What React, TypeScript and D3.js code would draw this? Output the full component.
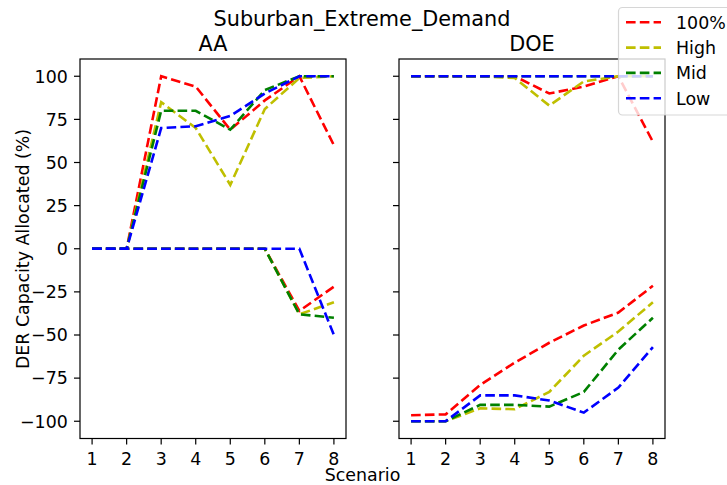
import React from "react";
import * as d3 from "d3";

const scenarios = [1, 2, 3, 4, 5, 6, 7, 8];
const seriesNames = ["100%", "High", "Mid", "Low"];
const seriesColors = ["#ff0000", "#bfbf00", "#008000", "#0000ff"];
const yTicks = [-100, -75, -50, -25, 0, 25, 50, 75, 100];

// AA panel
const aa100Pos = [0, 0, 100, 94, 69, 86, 100, 60];
const aaHighPos = [0, 0, 85, 70, 37, 81, 99, 100];
const aaMidPos = [0, 0, 80, 80, 69, 92, 100, 100];
const aaLowPos = [0, 0, 70, 71, 77, 90, 100, 100];
const aa100Neg = [0, 0, 0, 0, 0, 0, -36, -22];
const aaHighNeg = [0, 0, 0, 0, 0, 0, -38, -31];
const aaMidNeg = [0, 0, 0, 0, 0, 0, -38, -40];
const aaLowNeg = [0, 0, 0, 0, 0, 0, 0, -50];

// DOE panel
const doe100Pos = [100, 100, 100, 100, 90, 94, 100, 62];
const doeHighPos = [100, 100, 100, 99, 83, 97, 100, 100];
const doeMidPos = [100, 100, 100, 100, 100, 100, 100, 100];
const doeLowPos = [100, 100, 100, 100, 100, 100, 100, 100];
const doe100Neg = [-96.5, -96, -79, -66, -54.5, -44.5, -37, -21.5];
const doeHighNeg = [-100, -100, -92.5, -93, -83, -62, -48, -31];
const doeMidNeg = [-100, -100, -90.5, -90.5, -91.5, -83, -58.5, -40];
const doeLowNeg = [-100, -100, -85, -85, -88, -95, -80.5, -57];

const panels = [
  {
    title: "AA",
    range: [80, 346],
    showYLabels: true,
    pos: [aa100Pos, aaHighPos, aaMidPos, aaLowPos],
    neg: [aa100Neg, aaHighNeg, aaMidNeg, aaLowNeg],
  },
  {
    title: "DOE",
    range: [399, 665],
    showYLabels: false,
    pos: [doe100Pos, doeHighPos, doeMidPos, doeLowPos],
    neg: [doe100Neg, doeHighNeg, doeMidNeg, doeLowNeg],
  },
];

const FONT = "DejaVu Sans, sans-serif";
const fmt = (v: number) => (v < 0 ? "\u2212" + Math.abs(v) : String(v));

export default function App() {
  const W = 727;
  const H = 485;
  const top = 59;
  const bottom = 438.5;
  const y = d3.scaleLinear().domain([-110, 110]).range([bottom, top]);
  const dash = "9.6 4.2";
  const lw = 2.6;
  const tickLen = 6;
  const spineW = 1.2;
  const fsTick = 17.4;
  const fsTitle = 20.8;

  return (
    <svg
      width={W}
      height={H}
      style={{ position: "absolute", left: 0, top: 0, background: "#fff" }}
      fontFamily={FONT}
    >
      <rect x={0} y={0} width={W} height={H} fill="#fff" />
      <text x={362} y={25.5} textAnchor="middle" fontSize={fsTitle} fill="#000">
        Suburban_Extreme_Demand
      </text>
      {panels.map((p, pi) => {
        const x = d3.scaleLinear().domain([0.65, 8.35]).range(p.range);
        const line = d3
          .line<number>()
          .x((_, i) => x(scenarios[i]))
          .y((v) => y(v));
        const [x0, x1] = p.range;
        return (
          <g key={pi}>
            <defs>
              <clipPath id={"clip" + pi}>
                <rect x={x0} y={top} width={x1 - x0} height={bottom - top} />
              </clipPath>
            </defs>
            <g clipPath={`url(#clip${pi})`}>
              {seriesNames.map((s, si) => (
                <g key={s}>
                  <path
                    d={line(p.pos[si]) || ""}
                    fill="none"
                    stroke={seriesColors[si]}
                    strokeWidth={lw}
                    strokeDasharray={dash}
                  />
                  <path
                    d={line(p.neg[si]) || ""}
                    fill="none"
                    stroke={seriesColors[si]}
                    strokeWidth={lw}
                    strokeDasharray={dash}
                  />
                </g>
              ))}
            </g>
            <rect
              x={x0}
              y={top}
              width={x1 - x0}
              height={bottom - top}
              fill="none"
              stroke="#000"
              strokeWidth={spineW}
            />
            {scenarios.map((s) => (
              <g key={"xt" + s}>
                <line x1={x(s)} x2={x(s)} y1={bottom} y2={bottom + tickLen} stroke="#000" strokeWidth={spineW} />
                <text x={x(s)} y={464.5} textAnchor="middle" fontSize={fsTick} fill="#000">
                  {s}
                </text>
              </g>
            ))}
            {yTicks.map((t) => (
              <g key={"yt" + t}>
                <line x1={x0 - tickLen} x2={x0} y1={y(t)} y2={y(t)} stroke="#000" strokeWidth={spineW} />
                {p.showYLabels && (
                  <text x={x0 - 12.2} y={y(t) + 6.3} textAnchor="end" fontSize={fsTick} fill="#000">
                    {fmt(t)}
                  </text>
                )}
              </g>
            ))}
            <text x={(x0 + x1) / 2} y={50.5} textAnchor="middle" fontSize={fsTitle} fill="#000">
              {p.title}
            </text>
          </g>
        );
      })}
      <text
        x={28.5}
        y={249}
        transform="rotate(-90, 28.5, 249)"
        textAnchor="middle"
        fontSize={fsTick}
        fill="#000"
      >
        DER Capacity Allocated (%)
      </text>
      <text x={362.5} y={481} textAnchor="middle" fontSize={fsTick} fill="#000">
        Scenario
      </text>
      <g>
        <rect
          x={618.5}
          y={7.5}
          width={120}
          height={107.5}
          rx={4}
          fill="#fff"
          fillOpacity={0.8}
          stroke="#cccccc"
          strokeOpacity={0.8}
          strokeWidth={1.2}
        />
        {seriesNames.map((s, si) => {
          const ly = 22.3 + si * 25.3;
          return (
            <g key={"lg" + s}>
              <line
                x1={626}
                x2={661}
                y1={ly}
                y2={ly}
                stroke={seriesColors[si]}
                strokeWidth={lw}
                strokeDasharray={dash}
              />
              <text x={676} y={ly + 6.3} fontSize={fsTick} fill="#000">
                {s}
              </text>
            </g>
          );
        })}
      </g>
    </svg>
  );
}
